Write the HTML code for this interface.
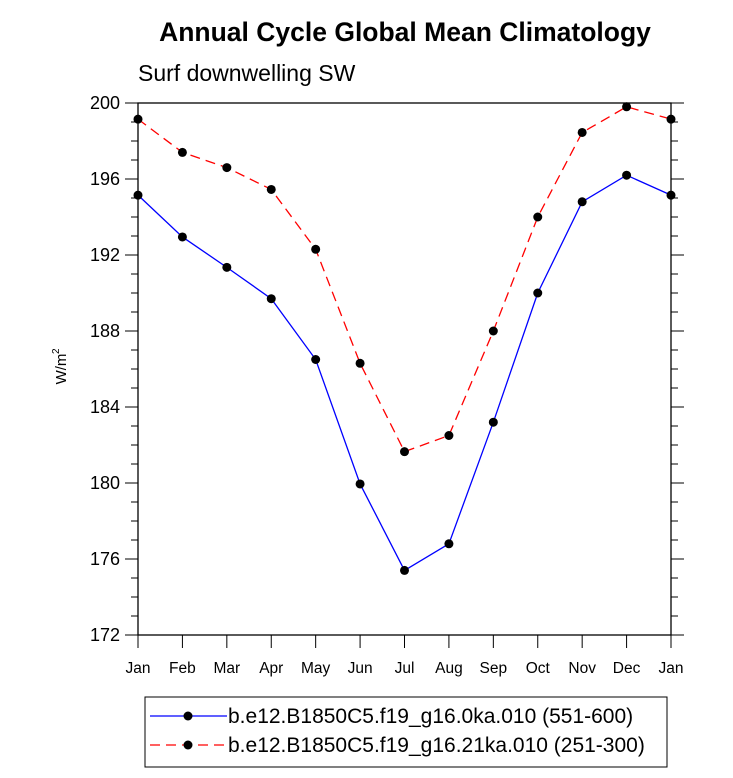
<!DOCTYPE html><html><head><meta charset="utf-8"><style>body{margin:0;background:#fff}svg{font-family:"Liberation Sans",sans-serif}</style></head><body>
<svg id="c" width="733" height="773"></svg>
<script>
const months=["Jan","Feb","Mar","Apr","May","Jun","Jul","Aug","Sep","Oct","Nov","Dec","Jan"];
const series0k=[195.15,192.95,191.35,189.7,186.5,179.95,175.4,176.8,183.2,190,194.8,196.2,195.15];
const series21k=[199.15,197.4,196.6,195.45,192.3,186.3,181.65,182.5,188,194,198.45,199.8,199.15];
const yTicks=[172,176,180,184,188,192,196,200];
const L=138,R=671,T=103,B=635,ymin=172,ymax=200;
const X=i=>L+(R-L)*i/(months.length-1);
const Y=v=>B-(B-T)*(v-ymin)/(ymax-ymin);
const s=document.getElementById('c');const NS="http://www.w3.org/2000/svg";
function mk(t,a,txt){const e=document.createElementNS(NS,t);for(const k in a)e.setAttribute(k,a[k]);if(txt!=null)e.textContent=txt;s.appendChild(e);return e;}
let e;
e=mk('text',{x:405,y:41,'text-anchor':'middle','font-size':26.5,'font-weight':'bold'},'Annual Cycle Global Mean Climatology');


e=mk('text',{x:138,y:81,'font-size':23},'Surf downwelling SW');


e=mk('rect',{x:L,y:T,width:R-L,height:B-T,fill:'none',stroke:'#000','stroke-width':1.3});


for(let v=ymin;v<=ymax;v++){const maj=(v-ymin)%4==0;const len=maj?13:7;const y=Y(v);
e=mk('line',{x1:L-len,x2:L,y1:y,y2:y,stroke:'#000'});


e=mk('line',{x1:R,x2:R+len,y1:y,y2:y,stroke:'#000'});

}
yTicks.forEach(v=>{e=mk('text',{x:120,y:Y(v)+6,'text-anchor':'end','font-size':18},v);

});
months.forEach((m,i)=>{const x=X(i);
e=mk('line',{x1:x,x2:x,y1:B,y2:B+13,stroke:'#000'});


e=mk('text',{x:x,y:673,'text-anchor':'middle','font-size':15.5},m);

});
e=mk('text',{transform:'translate(66,369) rotate(-90)','text-anchor':'middle','font-size':15},'W/m');


e=mk('text',{transform:'translate(59,354) rotate(-90)','font-size':10},'2');


function draw(arr,col,dash,name){
e=mk('polyline',{points:arr.map((v,i)=>X(i)+','+Y(v)).join(' '),fill:'none',stroke:col,'stroke-width':1.3,'stroke-dasharray':dash});


arr.forEach((v,i)=>{e=mk('circle',{cx:X(i),cy:Y(v),r:4.5,fill:'#000'});

});}
draw(series0k,'#0000ff','none','series-0ka');
draw(series21k,'#ff0000','10 6','series-21ka');
e=mk('rect',{x:145,y:697,width:522,height:70,fill:'#fff',stroke:'#000','stroke-width':1});


[[716,'#0000ff','none','b.e12.B1850C5.f19_g16.0ka.010 (551-600)'],[745,'#ff0000','10 6','b.e12.B1850C5.f19_g16.21ka.010 (251-300)']].forEach(([y,c,d,t])=>{
e=mk('line',{x1:150,x2:227,y1:y,y2:y,stroke:c,'stroke-width':1.3,'stroke-dasharray':d});


e=mk('circle',{cx:188,cy:y,r:4.5,fill:'#000'});


e=mk('text',{x:228,y:y+7,'font-size':21},t);

});
</script></body></html>
